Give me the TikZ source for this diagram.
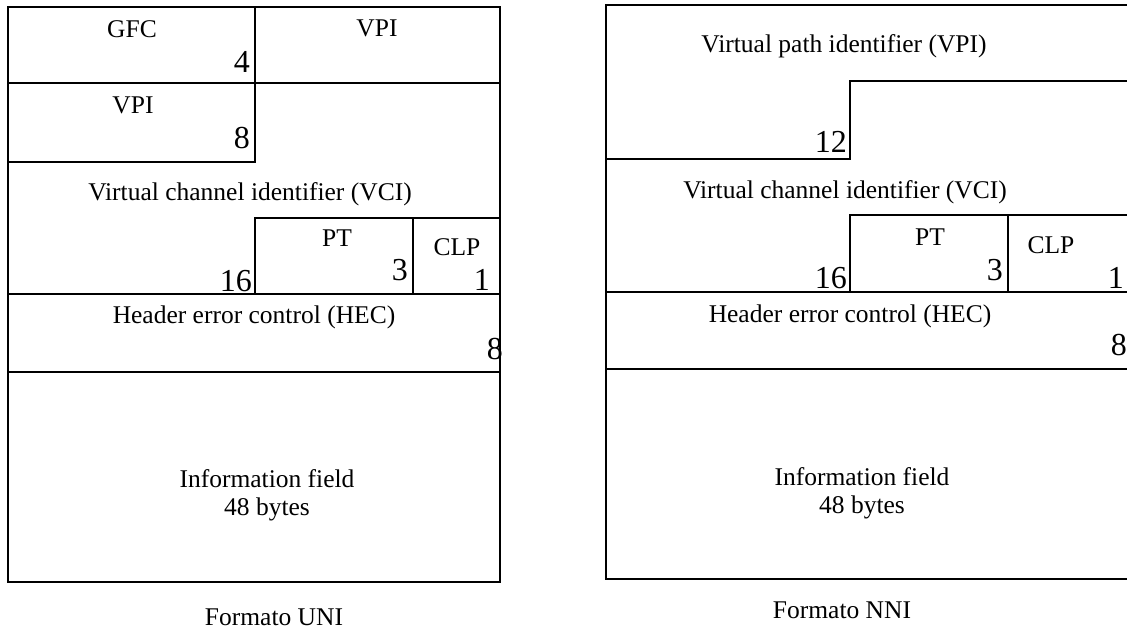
\documentclass[tikz,border=0pt]{standalone}
\usepackage{fontspec}
\setmainfont{Liberation Serif}
\tikzset{
  cell/.style={line width=2.8pt, line cap=rect},
  lbl/.style={inner sep=0pt, anchor=base, font=\fontsize{25.5}{30}\selectfont},
  bits/.style={inner sep=0pt, anchor=base east, font=\fontsize{32}{36}\selectfont},
  captiontext/.style={inner sep=0pt, anchor=base, font=\fontsize{25.5}{30}\selectfont},
}
\begin{document}
\begin{tikzpicture}[x=1pt,y=-1pt]
\useasboundingbox (0,0) rectangle (1127,630);
\clip (0,0) rectangle (1127,630);

% ---------- UNI cell header ----------
\draw[cell] (8,7) rectangle (500,582);
\draw[cell] (8,83) -- (500,83);
\draw[cell] (255,7) -- (255,162) -- (8,162);
\draw[cell] (255,294) -- (255,218) -- (500,218);
\draw[cell] (413,218) -- (413,294);
\draw[cell] (8,294) -- (500,294);
\draw[cell] (8,372) -- (500,372);

\node[lbl] (ugfc) at (132,37) {GFC};
\node[bits] (ugfcn) at (250,72) {4};
\node[lbl] (uvpia) at (377,36) {VPI};
\node[lbl] (uvpib) at (133,113) {VPI};
\node[bits] (uvpin) at (250,148) {8};
\node[lbl] (uvci) at (250,200) {Virtual channel identifier (VCI)};
\node[bits] (uvcin) at (252,291) {16};
\node[lbl] (upt) at (337,246) {PT};
\node[bits] (uptn) at (408,280) {3};
\node[lbl] (uclp) at (457,255) {CLP};
\node[bits] (uclpn) at (490,290) {1};
\node[lbl] (uhec) at (254,323) {Header error control (HEC)};
\node[bits] (uhecn) at (503,359) {8};
\node[lbl] (uinfo) at (267,487) {Information field};
\node[lbl] (ubytes) at (267,515) {48 bytes};
\node[captiontext] (uni) at (274,625) {Formato UNI};

% ---------- NNI cell header ----------
\draw[cell] (606,5) rectangle (1131,579);
\draw[cell] (850,81) -- (1131,81);
\draw[cell] (850,81) -- (850,159) -- (606,159);
\draw[cell] (850,292) -- (850,215) -- (1131,215);
\draw[cell] (1008,215) -- (1008,292);
\draw[cell] (606,292) -- (1131,292);
\draw[cell] (606,369) -- (1131,369);

\node[lbl] (nvpi) at (844,52) {Virtual path identifier (VPI)};
\node[bits] (nvpin) at (847,152) {12};
\node[lbl] (nvci) at (845,198) {Virtual channel identifier (VCI)};
\node[bits] (nvcin) at (847,288) {16};
\node[lbl] (npt) at (930,245) {PT};
\node[bits] (nptn) at (1003,280) {3};
\node[lbl] (nclp) at (1051,253) {CLP};
\node[bits] (nclpn) at (1124,288) {1};
\node[lbl] (nhec) at (850,322) {Header error control (HEC)};
\node[bits] (nhecn) at (1127,355) {8};
\node[lbl] (ninfo) at (862,485) {Information field};
\node[lbl] (nbytes) at (862,513) {48 bytes};
\node[captiontext] (nni) at (842,618) {Formato NNI};
\end{tikzpicture}
\end{document}
